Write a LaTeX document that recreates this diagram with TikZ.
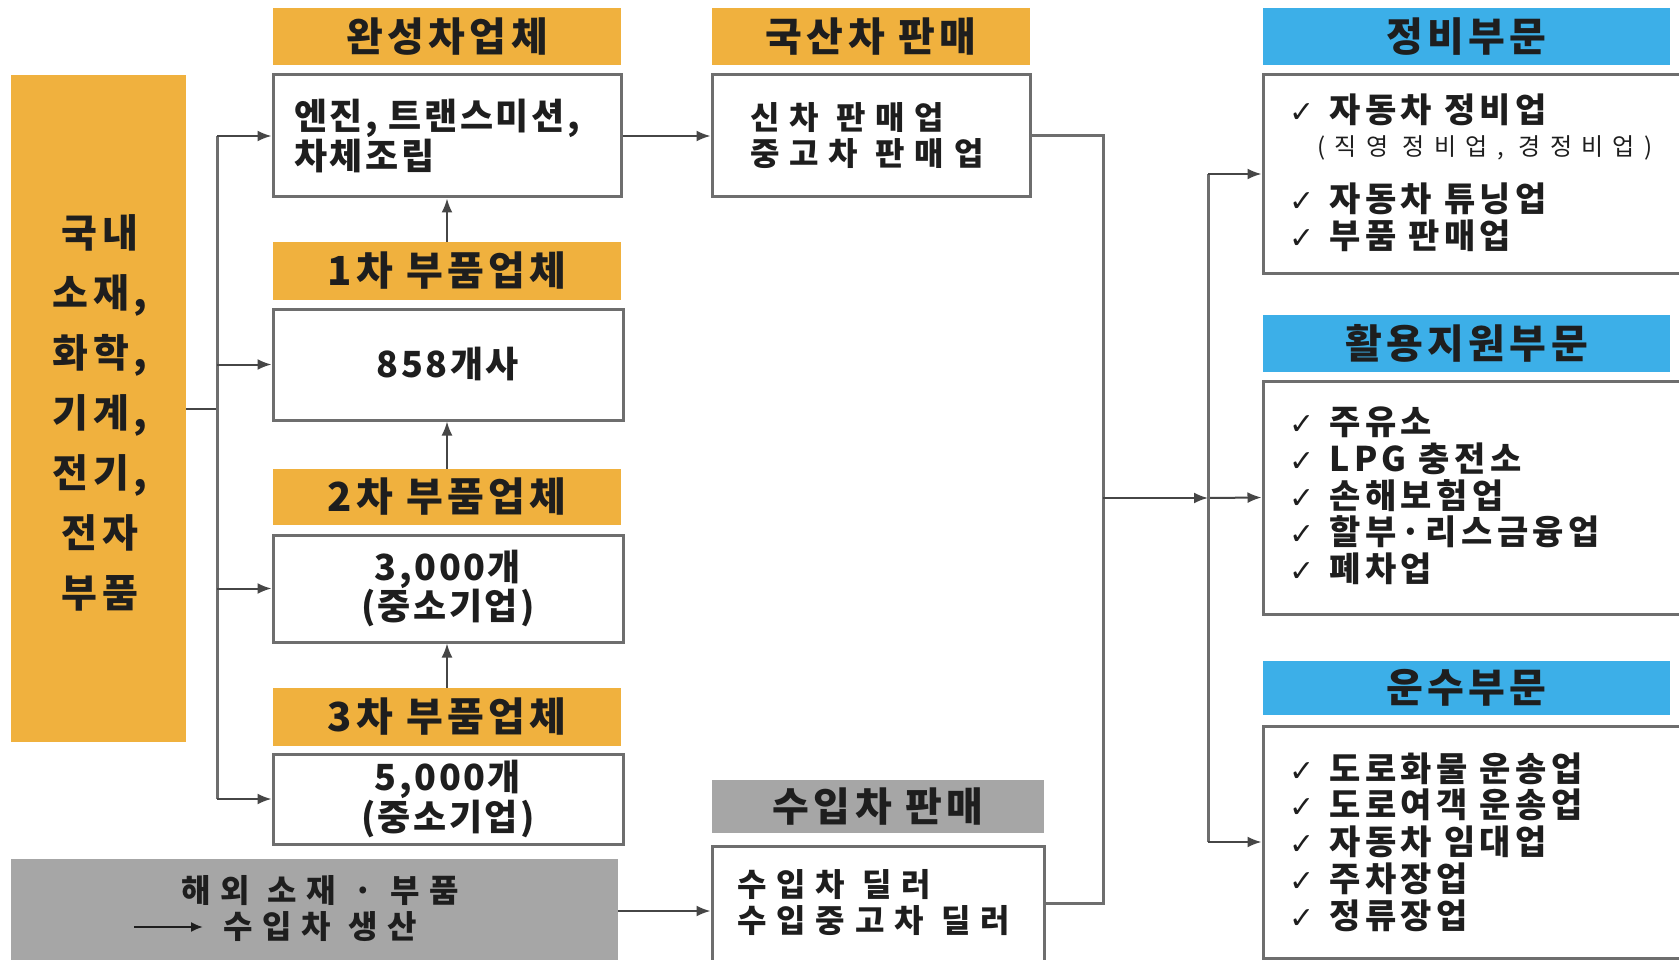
\documentclass[tikz,border=0pt]{standalone}
\usepackage{fontspec}
\newfontfamily\krf{Noto Sans CJK KR}
\newfontfamily\symf{DejaVu Sans}
\usetikzlibrary{arrows.meta}
\definecolor{oran}{RGB}{240,177,62}
\definecolor{grayfill}{RGB}{166,166,166}
\definecolor{bluefill}{RGB}{60,175,232}
\definecolor{edgegray}{RGB}{110,110,110}
\definecolor{linegray}{RGB}{70,70,70}
\definecolor{ink}{RGB}{30,30,30}
\newcommand\hfnt{\krf\bfseries\fontsize{40}{44}\selectfont\addfontfeature{LetterSpace=11}}
\newcommand\bfnt{\krf\bfseries\fontsize{36}{37}\selectfont\addfontfeature{LetterSpace=7}}
\newcommand\lfnt{\krf\bfseries\fontsize{39}{60}\selectfont\addfontfeature{LetterSpace=11}}
\newcommand\sfnt{\krf\bfseries\fontsize{32}{36}\selectfont\addfontfeature{LetterSpace=31}}
\newcommand\rfnt{\krf\bfseries\fontsize{34}{36.7}\selectfont\addfontfeature{LetterSpace=13}}
\newcommand\pfnt{\krf\fontsize{24}{26}\selectfont\addfontfeature{LetterSpace=39}}
\newcommand\ck{{\symf\fontsize{30}{30}\selectfont ✓}\hspace{15pt}}
\begin{document}
\begin{tikzpicture}[x=1pt,y=-1pt,
  hdrO/.style={fill=oran, inner sep=0pt, font=\hfnt, text=ink},
  hdrG/.style={fill=grayfill, inner sep=0pt, font=\hfnt, text=ink},
  hdrB/.style={fill=bluefill, inner sep=0pt, font=\hfnt, text=ink},
  wbox/.style={draw=edgegray, line width=3pt, fill=white, inner sep=0pt, text=ink},
  txt/.style={inner sep=0pt, anchor=west, align=left, text=ink},
  conn/.style={draw=linegray, line width=2pt, -{Latex[length=14pt,width=11pt]}},
  wire/.style={draw=linegray, line width=2pt},
  rail/.style={draw=edgegray, line width=3pt}]
\useasboundingbox (0,0) rectangle (1679,960);
\clip (0,0) rectangle (1679,960);
\fill[white] (0,0) rectangle (1679,960);

% left source
\node[fill=oran, inner sep=0pt, minimum width=175, minimum height=667] (L) at (98.5,408.5) {};
\node[inner sep=0pt, font=\lfnt, align=center, text=ink] (Lt) at (100,413) {국내\\소재,\\화학,\\기계,\\전기,\\전자\\부품};

% manufacturer column
\node[hdrO, minimum width=348, minimum height=57] (H1) at (447,37) {완성차업체};
\node[wbox, minimum width=348, minimum height=122] (B1) at (447,136) {};
\node[txt, font=\bfnt] (t1) at (294,136) {엔진, 트랜스미션,\\차체조립};
\node[hdrO, minimum width=348, minimum height=58] (H2) at (447,271) {1차 부품업체};
\node[wbox, minimum width=350, minimum height=111, font=\bfnt] (B2) at (448,364.5) {858개사};
\node[hdrO, minimum width=348, minimum height=56] (H3) at (447,497) {2차 부품업체};
\node[wbox, minimum width=350, minimum height=107, font=\bfnt, align=center] (B3) at (448,588.5) {3,000개\\(중소기업)};
\node[hdrO, minimum width=348, minimum height=58] (H4) at (447,717) {3차 부품업체};
\node[wbox, minimum width=350, minimum height=90, font=\bfnt, align=center] (B4) at (448,799) {5,000개\\(중소기업)};

% foreign
\node[fill=grayfill, inner sep=0pt, minimum width=607, minimum height=104] (G) at (314.5,911) {};
\node[inner sep=0pt, font=\sfnt, text=ink] (g1) at (320,891) {해외 소재 · 부품};
\node[txt, font=\sfnt] (g2) at (223,927) {수입차 생산};
\coordinate (ga) at (134,927);
\draw[draw=ink, line width=2pt, -{Latex[length=12pt,width=10pt]}] (ga) -- ([xshift=-20pt]g2.west);

% sales column
\node[hdrO, minimum width=318, minimum height=57] (H5) at (871,37) {국산차 판매};
\node[wbox, minimum width=318, minimum height=122] (B5) at (871,136) {};
\node[txt, font=\sfnt] (t5) at (750,136) {신차 판매업\\중고차 판매업};
\node[hdrG, minimum width=332, minimum height=53] (H6) at (878,806.5) {수입차 판매};
\node[wbox, minimum width=332, minimum height=130] (B6) at (878,911) {};
\node[txt, font=\sfnt] (t6) at (737,903) {수입차 딜러\\수입중고차 딜러};

% right column
\node[hdrB, minimum width=407, minimum height=57] (H7) at (1466.5,37) {정비부문};
\node[wbox, minimum width=419, minimum height=198] (B7) at (1472.5,174) {};
\node[txt, font=\rfnt] (r1) at (1289,110) {\ck 자동차 정비업};
\node[txt, font=\pfnt] (r2) at (1317,148) {(직영 정비업, 경정비업)};
\node[txt, font=\rfnt] (r3) at (1289,199) {\ck 자동차 튜닝업};
\node[txt, font=\rfnt] (r4) at (1289,236) {\ck 부품 판매업};

\node[hdrB, minimum width=407, minimum height=57] (H8) at (1466.5,343.5) {활용지원부문};
\node[wbox, minimum width=419, minimum height=233] (B8) at (1472.5,497.5) {};
\node[txt, font=\rfnt] (r5) at (1289,496) {\ck 주유소\\\ck LPG 충전소\\\ck 손해보험업\\\ck 할부·리스금융업\\\ck 폐차업};

\node[hdrB, minimum width=407, minimum height=54] (H9) at (1466.5,688) {운수부문};
\node[wbox, minimum width=419, minimum height=232] (B9) at (1472.5,842) {};
\node[txt, font=\rfnt] (r6) at (1289,842) {\ck 도로화물 운송업\\\ck 도로여객 운송업\\\ck 자동차 임대업\\\ck 주차장업\\\ck 정류장업};

% junction coordinates
\coordinate (lx) at (217,410);
\coordinate (cx) at (1103,498);
\coordinate (rx) at (1208,498);
\coordinate (b6o) at ([yshift=8pt]B6.east);

% left distribution
\draw[wire] (L.east) -- (L.east -| lx);
\draw[rail] (lx |- B1.west) -- (lx |- B4.west);
\draw[conn] (lx |- B1.west) -- (B1.west);
\draw[conn] (lx |- B2.west) -- (B2.west);
\draw[conn] (lx |- B3.west) -- (B3.west);
\draw[conn] (lx |- B4.west) -- (B4.west);

% supplier chain
\draw[conn] (H2.north) -- (H2.north |- B1.south);
\draw[conn] (H3.north) -- (H3.north |- B2.south);
\draw[conn] (H4.north) -- (H4.north |- B3.south);

% to sales
\draw[conn] (B1.east) -- (B5.west);
\draw[conn] (G.east |- B6.west) -- (B6.west);

% collector
\draw[rail] (B5.east) -- (B5.east -| cx) -- (cx |- b6o) -- (b6o);
\draw[conn] (cx) -- (rx);
\draw[conn] (rx) -- (B8.west);

% right distribution
\draw[rail] (rx |- B7.west) -- (rx |- B9.west);
\draw[conn] (rx |- B7.west) -- (B7.west);
\draw[conn] (rx |- B9.west) -- (B9.west);
\end{tikzpicture}
\end{document}
